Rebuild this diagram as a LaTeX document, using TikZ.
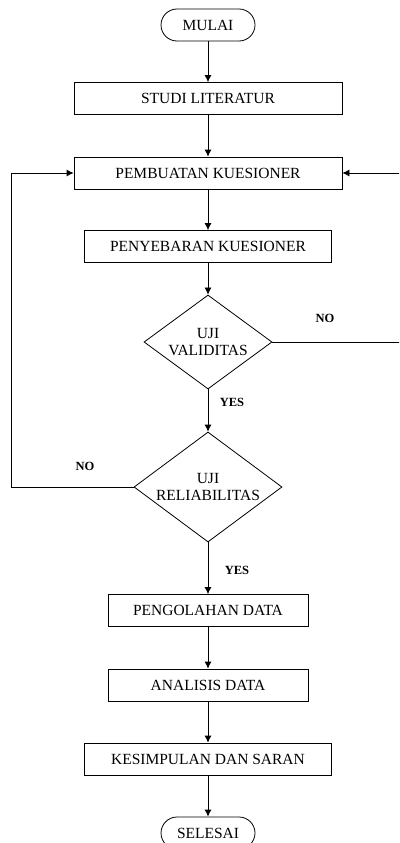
\documentclass[tikz,border=0pt]{standalone}
\usepackage{fontspec}
\setmainfont{Liberation Serif}
\usetikzlibrary{shapes.geometric,arrows.meta}

\begin{document}
\begin{tikzpicture}[x=1pt,y=-1pt,>={Latex[length=7pt,width=7pt]},line width=0.8pt,
    kotak/.style={draw,rectangle,minimum height=32pt,inner sep=0pt,font=\fontsize{15.5}{17}\selectfont},
    ujung/.style={kotak,rounded corners=16pt,minimum width=94pt},
    uji/.style={draw,diamond,inner sep=0pt,shape aspect=1.36,align=center,font=\fontsize{15.5}{16.5}\selectfont},
    lbl/.style={font=\bfseries\fontsize{12.5}{14}\selectfont}]
    \useasboundingbox (0,0) rectangle (399,843);
    \clip (0,0) rectangle (399,843);
    % langkah-langkah
    \node[ujung] (mulai) at (208,25) {MULAI};
    \node[kotak,minimum width=268pt] (studi) at (208,98.5) {STUDI LITERATUR};
    \node[kotak,minimum width=268pt] (buat) at (208,173) {PEMBUATAN KUESIONER};
    \node[kotak,minimum width=247pt] (sebar) at (208,246.5) {PENYEBARAN KUESIONER};
    \node[uji,minimum width=128pt,minimum height=94pt] (valid) at (208,342) {UJI\\VALIDITAS};
    \node[uji,minimum width=148pt,minimum height=110pt] (reli) at (208,487) {UJI\\RELIABILITAS};
    \node[kotak,minimum width=200pt] (olah) at (208,610.5) {PENGOLAHAN DATA};
    \node[kotak,minimum width=200pt] (analisis) at (208,685) {ANALISIS DATA};
    \node[kotak,minimum width=247pt] (simpul) at (208,759) {KESIMPULAN DAN SARAN};
    \node[ujung] (selesai) at (208,833) {SELESAI};
    \foreach \a/\b in {mulai/studi,studi/buat,buat/sebar,sebar/valid,valid/reli,reli/olah,olah/analisis,analisis/simpul,simpul/selesai}
    {
        \draw[->] (\a) -- (\b);
    }
    % umpan balik
    \coordinate (kanan) at (410,173);
    \coordinate (kiri) at (11,173);
    \draw[->] (valid.east) -| (kanan) -- (buat.east);
    \draw[->] (reli.west) -| (kiri) -- (buat.west);
    \node[lbl] (noValid) at (325,318) {NO};
    \node[lbl] (yesValid) at (232,402) {YES};
    \node[lbl] (noReli) at (85,466) {NO};
    \node[lbl] (yesReli) at (237,570) {YES};
\end{tikzpicture}
\end{document}
